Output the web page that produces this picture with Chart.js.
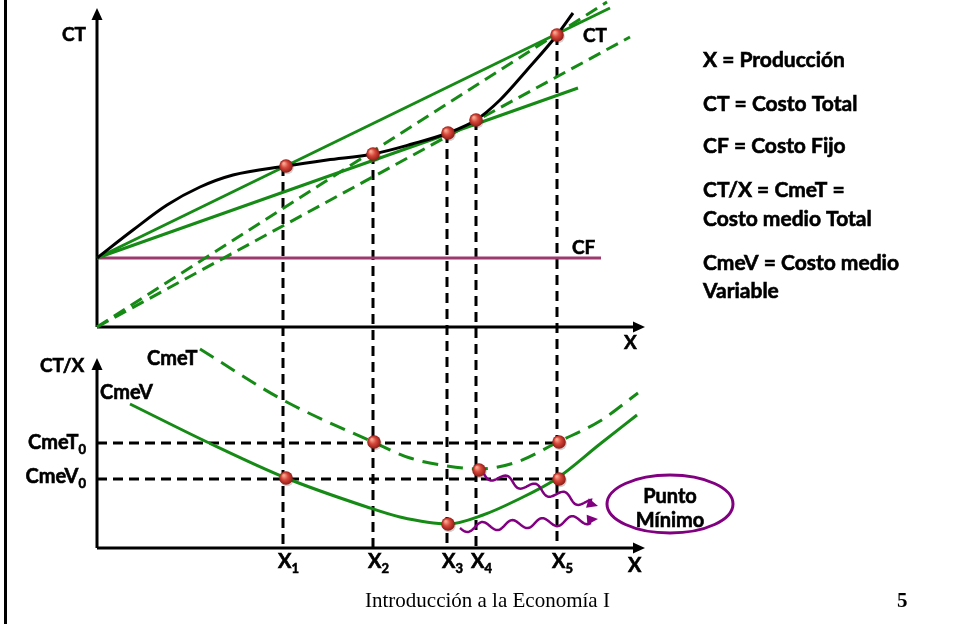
<!DOCTYPE html>
<html>
<head>
<meta charset="utf-8">
<script src="https://cdn.jsdelivr.net/npm/chart.js@4.4.1/dist/chart.umd.min.js"></script>
<style>
  html, body { margin: 0; padding: 0; background: #fff; }
  #wrap { position: relative; width: 958px; height: 624px; overflow: hidden; }
  #frame { position: absolute; left: 4px; top: 0; width: 3px; height: 624px; background: #000; }
  #c { position: absolute; left: 0; top: 0; }
</style>
</head>
<body>
<div id="wrap"><div id="frame"></div><canvas id="c" width="958" height="624"></canvas></div>
<script>
// production marks X1..X5 (x units)
const xMarks = [18.6, 27.6, 35.0, 37.9, 46.0];
const xMarkSubs = ['1', '2', '3', '4', '5'];

// top panel: costs
const CF = 6.9;
const cfEnd = 50.4;
const ctX = [0, 3.6, 7.0, 10.3, 13.6, 18.9, 23.0, 27.6, 31.5, 35.1, 37.9, 40.3, 43.0, 46.0, 47.6];
const ctY = [6.9, 9.7, 12.2, 14.0, 15.2, 16.1, 16.7, 17.3, 18.3, 19.4, 20.7, 22.7, 25.7, 29.2, 31.4];
const ctPtsX = [18.9, 27.6, 35.1, 37.9, 46.0];
const ctPtsY = [16.1, 17.3, 19.4, 20.7, 29.2];
const rayCFx1X5 = [{ x: 0, y: 6.9 }, { x: 51.3, y: 31.9 }];
const rayCFtan = [{ x: 0, y: 6.9 }, { x: 48.1, y: 23.9 }];
const rayOx2X5 = [{ x: 0, y: 0 }, { x: 51.0, y: 32.5 }];
const rayOtan = [{ x: 0, y: 0 }, { x: 53.3, y: 29.0 }];

// bottom panel: average costs
const cmeVx = [3.3, 11.0, 18.9, 27.0, 30.3, 35.1, 38.6, 42.0, 45.9, 50.3, 54.0];
const cmeVy = [14.4, 10.6, 7.0, 4.1, 3.1, 2.4, 3.3, 4.8, 6.9, 10.4, 13.3];
const cmeTx = [10.3, 18.6, 27.6, 31.3, 35.0, 38.2, 42.0, 46.1, 50.3, 54.1];
const cmeTy = [19.9, 14.8, 10.6, 9.0, 8.2, 7.9, 8.6, 10.6, 12.7, 15.5];
const botPtsX = [18.9, 27.7, 35.1, 38.2, 46.2, 46.2];
const botPtsY = [7.0, 10.6, 2.4, 7.8, 10.6, 6.9];
const cmeT0 = 10.5;
const cmeV0 = 6.9;

const legendLines = ['X = Producción', 'CT = Costo Total', 'CF = Costo Fijo', 'CT/X = CmeT =', 'Costo medio Total', 'CmeV = Costo medio', 'Variable'];
const legendBase = [67, 111, 153, 197, 226, 270, 298];

const GREEN = '#158a15';
const PURPLE = '#9c3a6e';
const VIOLET = '#800080';
const F = 'Lato, "Open Sans", sans-serif';

const zip = (xs, ys) => xs.map((v, i) => ({ x: v, y: ys[i] }));

function ball(r) {
  const c = document.createElement('canvas');
  const s = Math.ceil(r * 2 + 4);
  c.width = s; c.height = s;
  const g = c.getContext('2d');
  g.fillStyle = 'rgba(0,0,0,0.18)';
  g.beginPath(); g.arc(s / 2 + 1, s / 2 + 1.5, r, 0, Math.PI * 2); g.fill();
  const grd = g.createRadialGradient(s / 2 - r * 0.35, s / 2 - r * 0.4, r * 0.1, s / 2, s / 2, r);
  grd.addColorStop(0, '#f6a890');
  grd.addColorStop(0.45, '#d8473b');
  grd.addColorStop(1, '#8e1c16');
  g.fillStyle = grd;
  g.beginPath(); g.arc(s / 2, s / 2, r, 0, Math.PI * 2); g.fill();
  return c;
}
const dot = ball(6.8);

function series(data, yAxisID, color, width, dash, order) {
  return {
    data, yAxisID, showLine: true, borderColor: color, borderWidth: width,
    borderDash: dash || [], pointRadius: 0, pointHoverRadius: 0, fill: false,
    cubicInterpolationMode: 'monotone', order: order || 2, clip: false
  };
}

function arrowHead(ctx, x, y, ang, len, half) {
  ctx.beginPath();
  ctx.moveTo(x, y);
  ctx.lineTo(x - len * Math.cos(ang) + half * Math.sin(ang), y - len * Math.sin(ang) - half * Math.cos(ang));
  ctx.lineTo(x - len * Math.cos(ang) - half * Math.sin(ang), y - len * Math.sin(ang) + half * Math.cos(ang));
  ctx.closePath();
  ctx.fill();
}

// bold text with a hairline stroke so it reads as heavy as the original
function heavy(ctx, t, x, y) {
  ctx.fillText(t, x, y);
  ctx.strokeText(t, x, y);
}

function subText(ctx, main, s, x, y, align) {
  ctx.font = 'bold 20px ' + F;
  const w1 = ctx.measureText(main).width;
  ctx.font = 'bold 13px ' + F;
  const w2 = ctx.measureText(s).width;
  let left = x;
  if (align === 'right') left = x - w1 - w2;
  ctx.textAlign = 'left';
  ctx.font = 'bold 20px ' + F;
  heavy(ctx, main, left, y);
  ctx.font = 'bold 13px ' + F;
  heavy(ctx, s, left + w1, y + 5);
}

function wavy(ctx, sx, sy, ex, ey) {
  const dx = ex - sx, dy = ey - sy, L = Math.hypot(dx, dy);
  const ux = dx / L, uy = dy / L;
  ctx.beginPath();
  for (let d = 0; d <= L - 8; d += 1) {
    const a = 4.5 * Math.sin(d / 30 * Math.PI * 2);
    const px = sx + ux * d - uy * a, py = sy + uy * d + ux * a;
    if (d === 0) ctx.moveTo(px, py); else ctx.lineTo(px, py);
  }
  ctx.lineTo(ex - ux * 8, ey - uy * 8);
  ctx.stroke();
  arrowHead(ctx, ex, ey, Math.atan2(dy, dx), 11, 5);
}

const deco = {
  id: 'deco',
  beforeDatasetsDraw(chart) {
    const { ctx, scales: { x, yTop, yBot } } = chart;
    const X = v => x.getPixelForValue(v);
    ctx.save();
    ctx.strokeStyle = '#000';
    ctx.lineWidth = 3;
    ctx.setLineDash([10, 6]);
    xMarks.forEach((m, i) => {
      ctx.beginPath();
      ctx.moveTo(X(m), yTop.getPixelForValue(ctPtsY[i]));
      ctx.lineTo(X(m), yBot.getPixelForValue(0));
      ctx.stroke();
    });
    [cmeT0, cmeV0].forEach(l => {
      ctx.beginPath();
      ctx.moveTo(X(0), yBot.getPixelForValue(l));
      ctx.lineTo(X(xMarks[4]), yBot.getPixelForValue(l));
      ctx.stroke();
    });
    ctx.setLineDash([]);
    ctx.fillStyle = '#000';
    // axes with arrows
    [[yTop, 31.9], [yBot, 19.0]].forEach(([s, top]) => {
      ctx.beginPath();
      ctx.moveTo(X(0), s.getPixelForValue(0));
      ctx.lineTo(X(0), s.getPixelForValue(top) + 8);
      ctx.moveTo(X(0), s.getPixelForValue(0));
      ctx.lineTo(X(54.8) - 8, s.getPixelForValue(0));
      ctx.stroke();
      arrowHead(ctx, X(0), s.getPixelForValue(top), -Math.PI / 2, 12, 5.5);
      arrowHead(ctx, X(54.8), s.getPixelForValue(0), 0, 12, 5.5);
    });
    ctx.restore();
  },
  afterDatasetsDraw(chart) {
    const { ctx, scales: { x, yTop, yBot } } = chart;
    const X = v => x.getPixelForValue(v);
    ctx.save();
    ctx.fillStyle = '#000';
    ctx.strokeStyle = '#000';
    ctx.lineWidth = 0.6;
    ctx.textBaseline = 'alphabetic';
    ctx.font = 'bold 19px ' + F;
    ctx.textAlign = 'left';
    heavy(ctx, 'CT', 62, 41);
    heavy(ctx, 'CT', 583, 42);
    heavy(ctx, 'CF', 572, 254);
    heavy(ctx, 'X', 624, 349);
    heavy(ctx, 'CT/X', 40, 372);
    ctx.font = 'bold 20px ' + F;
    heavy(ctx, 'CmeT', 147, 365);
    heavy(ctx, 'CmeV', 100, 399);
    heavy(ctx, 'X', 628, 572);
    subText(ctx, 'CmeT', '0', X(0) - 11, yBot.getPixelForValue(cmeT0) + 6, 'right');
    subText(ctx, 'CmeV', '0', X(0) - 11, yBot.getPixelForValue(cmeV0) + 4, 'right');
    xMarks.forEach((m, i) => subText(ctx, 'X', xMarkSubs[i], X(m) - 5, 568, 'left'));

    // legend
    ctx.font = 'bold 21px ' + F;
    ctx.textAlign = 'left';
    legendLines.forEach((t, i) => heavy(ctx, t, 703, legendBase[i]));

    ctx.textAlign = 'center';
    ctx.font = 'bold 20px ' + F;
    heavy(ctx, 'Punto', X(57.3), 503);
    heavy(ctx, 'Mínimo', X(57.3), 527);

    // "Punto Mínimo" callout
    ctx.strokeStyle = VIOLET;
    ctx.fillStyle = VIOLET;
    ctx.lineWidth = 2.5;
    wavy(ctx, X(38.7), yBot.getPixelForValue(7.4), X(50.1), yBot.getPixelForValue(4.2));
    wavy(ctx, X(36.3), yBot.getPixelForValue(2.0), X(50.1), yBot.getPixelForValue(2.9));
    ctx.lineWidth = 3;
    ctx.beginPath();
    ctx.ellipse(X(57.3), yBot.getPixelForValue(4.4), 63, 29, 0, 0, Math.PI * 2);
    ctx.stroke();

    // footer
    ctx.fillStyle = '#000';
    ctx.font = '21px "Liberation Serif", "DejaVu Serif", serif';
    ctx.textAlign = 'left';
    ctx.fillText('Introducción a la Economía I', 365, 607);
    ctx.font = 'bold 21px "Liberation Serif", "DejaVu Serif", serif';
    ctx.fillText('5', 897, 607);
    ctx.restore();
  }
};

new Chart(document.getElementById('c'), {
  type: 'scatter',
  data: {
    datasets: [
      { data: zip(ctPtsX, ctPtsY), yAxisID: 'yTop', pointStyle: dot, pointRadius: 7, order: 0, clip: false },
      { data: zip(botPtsX, botPtsY), yAxisID: 'yBot', pointStyle: dot, pointRadius: 7, order: 0, clip: false },
      series([{ x: 0, y: CF }, { x: cfEnd, y: CF }], 'yTop', PURPLE, 3, null, 3),
      series(rayCFx1X5, 'yTop', GREEN, 3, null, 2),
      series(rayCFtan, 'yTop', GREEN, 3, null, 2),
      series(rayOx2X5, 'yTop', GREEN, 3, [13, 7], 2),
      series(rayOtan, 'yTop', GREEN, 3, [13, 7], 2),
      series(zip(ctX, ctY), 'yTop', '#000', 3, null, 1),
      series(zip(cmeVx, cmeVy), 'yBot', GREEN, 3, null, 1),
      series(zip(cmeTx, cmeTy), 'yBot', GREEN, 3, [16, 9], 1)
    ]
  },
  options: {
    responsive: false,
    animation: false,
    events: [],
    layout: { padding: 0, autoPadding: false },
    plugins: { legend: { display: false }, tooltip: { enabled: false } },
    scales: {
      x: { type: 'linear', display: false, min: -9.7, max: 86.1 },
      yTop: { type: 'linear', display: false, min: -29.7, max: 32.7 },
      yBot: { type: 'linear', display: false, min: -7.6, max: 54.8 }
    }
  },
  plugins: [deco]
});
</script>
</body>
</html>
